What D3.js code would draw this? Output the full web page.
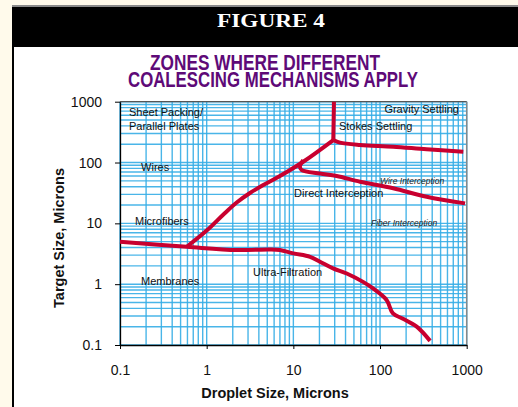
<!DOCTYPE html>
<html><head><meta charset="utf-8">
<script src="https://cdn.jsdelivr.net/npm/d3@7"></script>
<style>
html,body{margin:0;padding:0;background:#fffaeb;}
svg{display:block;}
</style></head>
<body>
<svg id="chart" width="518" height="407"></svg>
<script>
// ---- data (droplet size µm, target size µm) ----
const xTicks = [0.1, 1, 10, 100, 1000];
const yTicks = [0.1, 1, 10, 100, 1000];
const membraneBoundary = [[0.1,5.0],[0.59,4.12],[2.22,3.64],[5.38,3.73],[7.0,3.64],[10,3.21],[15.6,2.82],[20.3,2.34],[28.7,1.82],[41.3,1.5],[63.7,1.09],[83,0.85],[119,0.55],[141,0.33],[184,0.27],[265,0.2],[378,0.117]];
const diagonalBoundary = [[0.59,4.12],[1.0,7.6],[1.56,14],[2.22,22],[3.16,31.5],[4.5,42.7],[7.0,60],[13,103],[28.9,234]];
const stokesBoundary = [[28.9,234],[29.4,1000]];
const gravityBoundary = [[28.9,234],[34.5,212],[58.8,194],[142,182],[345,165],[914,151]];
const interceptionBoundary = [[13,110],[11.9,85],[12.5,75],[20.3,66],[31.6,60],[58.8,48.3],[142,37.7],[345,27.4],[957,21.3]];
const zoneLabels = [
  {text:"Sheet Packing/", x:0.127, y:582},
  {text:"Parallel Plates", x:0.127, y:343},
  {text:"Wires", x:0.175, y:72.5},
  {text:"Microfibers", x:0.149, y:9.4},
  {text:"Membranes", x:0.175, y:0.966},
  {text:"Ultra-Filtration", x:3.43, y:1.36},
  {text:"Stokes Settling", x:33.6, y:343},
  {text:"Direct Interception", x:10.2, y:27.1}
];
const rightLabels = [{text:"Gravity Settling", x:815, y:652}];
const italicLabels = [
  {text:"Wire Interception", x:100, y:44.3},
  {text:"Fiber Interception", x:78.7, y:9.03}
];
const figureTitle = "FIGURE 4";
const chartTitle = ["ZONES WHERE DIFFERENT", "COALESCING MECHANISMS APPLY"];
const xTitle = "Droplet Size, Microns";
const yTitle = "Target Size, Microns";

// ---- drawing ----
const svg = d3.select("#chart");
const sans = "'Liberation Sans', Arial, sans-serif";

// frame
svg.append("rect").attr("x",14).attr("y",47).attr("width",504).attr("height",360).attr("fill","#ffffff");
svg.append("rect").attr("x",12).attr("y",5).attr("width",506).attr("height",42).attr("fill","#000");
svg.append("rect").attr("x",12).attr("y",5).attr("width",506).attr("height",2).attr("fill","#8a8a8a");
svg.append("rect").attr("x",12).attr("y",47).attr("width",2).attr("height",360).attr("fill","#000");

svg.append("text").attr("x",271).attr("y",26.5).attr("text-anchor","middle")
  .attr("font-family","'Liberation Serif','Times New Roman',serif").attr("font-weight","bold")
  .attr("font-size",19).attr("fill","#fff").attr("textLength",108).attr("lengthAdjust","spacingAndGlyphs")
  .text(figureTitle);

const titleLens = [230, 290];
const titleX = [150, 128];
const titleText = svg.append("text").attr("font-family",sans).attr("font-weight","bold")
  .attr("font-size",21.5).attr("fill","#5e0a78");
chartTitle.forEach((t,i)=>{
  titleText.append("tspan").attr("x",titleX[i]).attr("y",70+i*17)
    .attr("textLength",titleLens[i]).attr("lengthAdjust","spacingAndGlyphs")
    .text(t);
});

const x = d3.scaleLog().domain([0.1,1000]).range([120,466.7]);
const y = d3.scaleLog().domain([0.1,1000]).range([345,101.7]);

// grid values
const gridVals = [];
for (let e=-1; e<3; e++) for (let m=1; m<10; m++) gridVals.push(m*Math.pow(10,e));
gridVals.push(1000);

const grid = svg.append("g").attr("stroke","#35ade6").attr("stroke-width",1.4).attr("stroke-opacity",0.9);
grid.selectAll("line.v").data(gridVals).join("line").attr("class","v")
  .attr("x1",d=>x(d)).attr("x2",d=>x(d)).attr("y1",y(1000)).attr("y2",y(0.1));
grid.selectAll("line.h").data(gridVals).join("line").attr("class","h")
  .attr("x1",x(0.1)).attr("x2",x(1000)).attr("y1",d=>y(d)).attr("y2",d=>y(d));

// frame top/right
svg.append("line").attr("x1",x(0.1)).attr("x2",x(1000)).attr("y1",y(1000)).attr("y2",y(1000)).attr("stroke","#555").attr("stroke-width",1.2);
svg.append("line").attr("x1",x(1000)).attr("x2",x(1000)).attr("y1",y(1000)).attr("y2",y(0.1)).attr("stroke","#888").attr("stroke-width",1.5);

// axes
const fmt = d => String(d);
const xAxis = svg.append("g").attr("transform",`translate(0,${y(0.1)})`)
  .call(d3.axisBottom(x).tickValues(xTicks).tickFormat(fmt).tickSize(4).tickSizeOuter(0).tickPadding(16));
const yAxis = svg.append("g").attr("transform",`translate(${x(0.1)},0)`)
  .call(d3.axisLeft(y).tickValues(yTicks).tickFormat(fmt).tickSize(5).tickSizeOuter(0).tickPadding(13));
[xAxis,yAxis].forEach(a=>{
  a.selectAll("text").attr("font-family",sans).attr("font-size",14).attr("fill","#111");
  a.select(".domain").attr("stroke","#000").attr("stroke-width",1.3);
  a.selectAll(".tick line").attr("stroke","#000");
});

// boundaries
const line = d3.line().x(d=>x(d[0])).y(d=>y(d[1])).curve(d3.curveCatmullRom.alpha(0.5));
[membraneBoundary, diagonalBoundary, stokesBoundary, gravityBoundary, interceptionBoundary].forEach(b=>{
  svg.append("path").attr("d",line(b)).attr("fill","none").attr("stroke","#c8002f")
    .attr("stroke-width",4).attr("stroke-linecap","butt").attr("stroke-linejoin","round");
});

// labels
svg.selectAll("text.zone").data(zoneLabels).join("text").attr("class","zone")
  .attr("x",d=>x(d.x)).attr("y",d=>y(d.y)).attr("font-family",sans).attr("font-size",11).attr("fill","#111")
  .text(d=>d.text);
svg.selectAll("text.zr").data(rightLabels).join("text").attr("class","zr")
  .attr("x",d=>x(d.x)).attr("y",d=>y(d.y)).attr("text-anchor","end").attr("font-family",sans).attr("font-size",11).attr("fill","#111")
  .text(d=>d.text);
svg.selectAll("text.zi").data(italicLabels).join("text").attr("class","zi")
  .attr("x",d=>x(d.x)).attr("y",d=>y(d.y)).attr("font-family",sans).attr("font-style","italic").attr("font-size",8.5).attr("fill","#222")
  .text(d=>d.text);

// axis titles
svg.append("text").attr("x",275).attr("y",398).attr("text-anchor","middle")
  .attr("font-family",sans).attr("font-weight","bold").attr("font-size",14.5).attr("fill","#111").text(xTitle);
svg.append("text").attr("transform","translate(64,238) rotate(-90)").attr("text-anchor","middle")
  .attr("font-family",sans).attr("font-weight","bold").attr("font-size",14.5).attr("fill","#111").text(yTitle);
</script>
</body></html>
